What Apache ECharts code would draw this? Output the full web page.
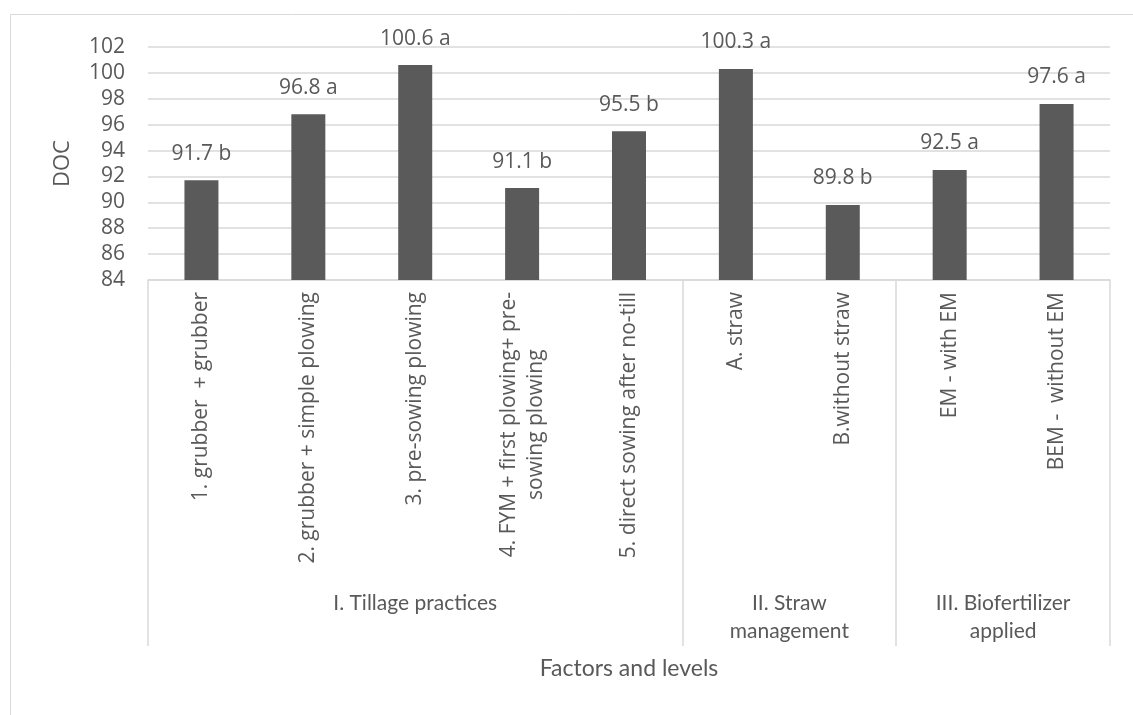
<!DOCTYPE html>
<html>
<head>
<meta charset="utf-8">
<script src="https://cdn.jsdelivr.net/npm/echarts@6/dist/echarts.min.js"></script>
<style>
    html, body { margin: 0; padding: 0; background: #fff; }
    #chart-doc { width: 1133px; height: 715px; }
</style>
</head>
<body>
<div id="chart-doc"></div>
<script>
// Data
const levels = [
    '1. grubber  + grubber',
    '2. grubber + simple plowing',
    '3. pre-sowing plowing',
    '4. FYM + first plowing+ pre-\nsowing plowing',
    '5. direct sowing after no-till',
    'A. straw',
    'B.without straw',
    'EM - with EM',
    'BEM -  without EM'
];
const docValues = [91.7, 96.8, 100.6, 91.1, 95.5, 100.3, 89.8, 92.5, 97.6];
const letters = ['b', 'a', 'a', 'b', 'b', 'a', 'b', 'a', 'a'];
const groupNames = ['I. Tillage practices', 'II. Straw\nmanagement', 'III. Biofertilizer\napplied'];
const groupBounds = [0, 5, 7, 9];
const groupCenters = [2.5, 6, 8];
const yTicks = [84, 86, 88, 90, 92, 94, 96, 98, 100, 102];

const textColor = '#595959';
const lineColor = '#d9d9d9';

const docChart = echarts.init(document.getElementById('chart-doc'));
const option = {
    backgroundColor: '#fff',
    animation: false,
    graphic: [{
        type: 'rect',
        left: 8,
        top: 12,
        shape: { width: 1200, height: 800 },
        style: { fill: 'none', stroke: lineColor, lineWidth: 1 },
        silent: true
    }],
    grid: {
        left: 148,
        right: 23,
        top: 47,
        bottom: 435
    },
    xAxis: [{
        type: 'category',
        data: levels,
        axisLine: { show: true, lineStyle: { color: lineColor, width: 1.5 } },
        axisTick: { show: false },
        axisLabel: {
            interval: 0,
            rotate: 90,
            margin: 12,
            color: textColor,
            fontFamily: 'Open Sans',
            fontSize: 21,
            lineHeight: 27,
            formatter: function(v) {
                return v.split('\n').map(function(s) { return '{c|' + s + '}'; }).join('\n');
            },
            rich: {
                c: { align: 'center', color: textColor, fontFamily: 'Open Sans', fontSize: 21, lineHeight: 27 }
            }
        }
    }, {
        type: 'value',
        min: 0,
        max: 9,
        position: 'bottom',
        axisLine: { show: false },
        splitLine: { show: false },
        axisTick: {
            show: true,
            customValues: groupBounds,
            length: 366,
            lineStyle: { color: lineColor, width: 1.5 }
        },
        axisLabel: {
            customValues: groupCenters,
            margin: 309,
            color: textColor,
            fontFamily: 'Lato',
            fontSize: 21,
            lineHeight: 28,
            formatter: function(v) {
                return groupNames[groupCenters.indexOf(v)];
            }
        },
        name: 'Factors and levels',
        nameLocation: 'middle',
        nameGap: 377,
        nameTextStyle: { color: textColor, fontFamily: 'Lato', fontSize: 23 }
    }],
    yAxis: {
        type: 'value',
        min: 84,
        max: 102,
        interval: 2,
        name: 'DOC',
        nameLocation: 'middle',
        nameRotate: 90,
        nameGap: 74,
        nameTextStyle: { color: textColor, fontFamily: 'Open Sans', fontSize: 22 },
        axisLine: { show: false },
        axisTick: { show: false },
        axisLabel: {
            margin: 23,
            color: textColor,
            fontFamily: 'Open Sans',
            fontSize: 21,
            customValues: yTicks
        },
        splitLine: { lineStyle: { color: lineColor, width: 1.5 } }
    },
    series: [{
        name: 'DOC',
        type: 'bar',
        barWidth: 34,
        data: docValues,
        itemStyle: { color: '#5a5a5a' },
        label: {
            show: true,
            position: 'top',
            distance: 16,
            color: textColor,
            fontFamily: 'Open Sans',
            fontSize: 21,
            formatter: function(p) {
                return p.value.toFixed(1) + ' ' + letters[p.dataIndex];
            }
        }
    }]
};
docChart.setOption(option);
</script>
</body>
</html>
